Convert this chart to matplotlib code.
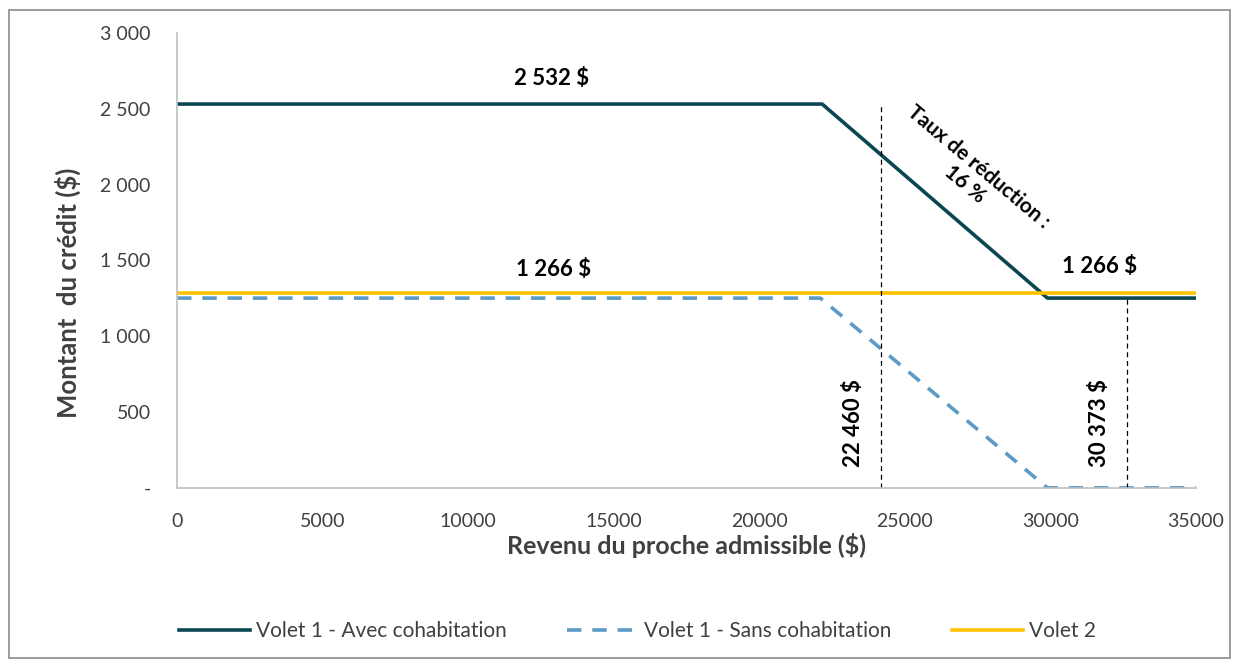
import matplotlib
matplotlib.use("Agg")
import matplotlib.pyplot as plt
from matplotlib.patches import Rectangle
from matplotlib.ticker import FuncFormatter

plt.rcParams["font.family"] = ["Lato", "DejaVu Sans"]

# ── Data ──
income_avec = [0, 22160, 29900, 35000]
credit_avec = [2532, 2532, 1252, 1252]
income_sans = [0, 22100, 29900, 35000]
credit_sans = [1252, 1252, 0, 0]
income_v2 = [0, 35000]
credit_v2 = [1285, 1285]

seuils = [24180, 32640]          # vertical markers
seuil_tops = [2532, 1252]
seuil_labels = ["22 460 $", "30 373 $"]

x_ticks = [0, 5000, 10000, 15000, 20000, 25000, 30000, 35000]
y_ticks = [0, 500, 1000, 1500, 2000, 2500, 3000]

C_AVEC = "#0b4653"
C_SANS = "#5b9bc5"
C_V2 = "#ffc000"

fig = plt.figure(figsize=(12.38, 6.62), dpi=100)
ax = fig.add_axes([0.143, 0.263, 0.823, 0.687])

ax.plot(income_avec, credit_avec, color=C_AVEC, lw=2.6,
        label="Volet 1 - Avec cohabitation")
ax.plot(income_sans, credit_sans, color=C_SANS, lw=2.6, ls=(0, (4, 3)),
        label="Volet 1 - Sans cohabitation")
ax.plot(income_v2, credit_v2, color=C_V2, lw=2.6, label="Volet 2")

for xs, top, lab in zip(seuils, seuil_tops, seuil_labels):
    ax.plot([xs, xs], [0, top], color="black", lw=0.9, ls=(0, (4, 3)))
    ax.text(xs - 950, 430, lab, rotation=90, ha="center", va="center",
            fontsize=16, fontweight="bold")

ax.text(12850, 2700, "2 532 $", ha="center", va="center",
        fontsize=16, fontweight="bold")
ax.text(12950, 1440, "1 266 $", ha="center", va="center",
        fontsize=16, fontweight="bold")
ax.text(31700, 1460, "1 266 $", ha="center", va="center",
        fontsize=16, fontweight="bold")
ax.text(27300, 2060, "Taux de réduction :\n16 %", rotation=-40,
        ha="center", va="center", fontsize=15, fontweight="bold",
        linespacing=1.1, rotation_mode="anchor")

ax.set_xlim(0, 35000)
ax.set_ylim(0, 3000)
ax.set_xticks(x_ticks)
ax.set_yticks(y_ticks)
ax.yaxis.set_major_formatter(FuncFormatter(
    lambda v, p: "-" if v == 0 else f"{int(v):,}".replace(",", " ")))
ax.tick_params(axis="both", length=0, labelsize=14, colors="#404040")
ax.tick_params(axis="x", pad=18)
ax.tick_params(axis="y", pad=19)

for s in ["top", "right"]:
    ax.spines[s].set_visible(False)
for s in ["left", "bottom"]:
    ax.spines[s].set_color("#bfbfbf")
    ax.spines[s].set_linewidth(1.2)

ax.set_xlabel("Revenu du proche admissible ($)", fontsize=18,
              fontweight="bold", color="#404040", labelpad=2)
ax.set_ylabel("Montant  du crédit ($)", fontsize=18.5, fontweight="bold",
              color="#404040")
ax.yaxis.set_label_coords(-0.094, 0.43)

fig.legend(loc="center", bbox_to_anchor=(0.515, 0.047), ncol=3,
           frameon=False, fontsize=15, handlelength=3.4,
           handletextpad=0.3, columnspacing=2.9,
           labelcolor="#404040")

fig.patches.append(Rectangle((9 / 1238, 4 / 662), 1221 / 1238, 648 / 662,
                             transform=fig.transFigure, fill=False,
                             edgecolor="#8c8c8c", lw=1.2))

fig.savefig("out.png", dpi=100)
